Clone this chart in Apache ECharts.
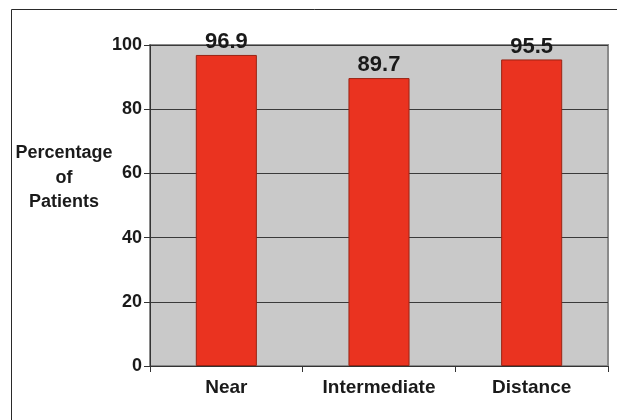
<!DOCTYPE html>
<html>
<head>
<meta charset="utf-8">
<script src="https://cdn.jsdelivr.net/npm/echarts@6/dist/echarts.min.js"></script>
<style>
  html, body { margin: 0; padding: 0; background: #ffffff; }
  #chart { width: 617px; height: 420px; }
</style>
</head>
<body>
<div id="chart"></div>
<script>
// Share of patients reaching each vision range
const categories = ['Near', 'Intermediate', 'Distance'];
const percentages = [96.9, 89.7, 95.5];
const yTicks = { min: 0, max: 100, interval: 20 };
const yAxisTitle = 'Percentage\nof\nPatients';

const FONT = '"Liberation Sans", Arial, sans-serif';

const chart = echarts.init(document.getElementById('chart'), null, { renderer: 'canvas' });

chart.setOption({
  animation: false,
  backgroundColor: '#ffffff',
  grid: {
    left: 150, right: 9, top: 45, bottom: 54,
    show: true,
    backgroundColor: '#c9c9c9',
    borderColor: '#8a8a8a',
    borderWidth: 2
  },
  graphic: [
    {
      type: 'rect',
      shape: { x: 11.5, y: 9.5, width: 700, height: 500 },
      style: { fill: 'none', stroke: '#2a2a2a', lineWidth: 1 },
      silent: true
    },
    {
      type: 'text',
      x: 64,
      y: 178,
      style: {
        text: yAxisTitle,
        font: 'bold 18px ' + FONT,
        fill: '#1a1a1a',
        align: 'center',
        verticalAlign: 'middle',
        lineHeight: 24.5
      },
      silent: true
    }
  ],
  xAxis: {
    type: 'category',
    data: categories,
    boundaryGap: true,
    axisLine: { show: true, lineStyle: { color: '#333333', width: 1 } },
    axisTick: { show: true, length: 6, lineStyle: { color: '#333333' } },
    axisLabel: {
      margin: 12,
      color: '#1a1a1a',
      fontFamily: FONT,
      fontWeight: 'bold',
      fontSize: 19
    },
    splitLine: { show: false }
  },
  yAxis: {
    type: 'value',
    min: yTicks.min,
    max: yTicks.max,
    interval: yTicks.interval,
    axisLine: { show: true, lineStyle: { color: '#333333', width: 1 } },
    axisTick: { show: true, length: 6, lineStyle: { color: '#333333' } },
    axisLabel: {
      margin: 8,
      color: '#1a1a1a',
      fontFamily: FONT,
      fontWeight: 'bold',
      fontSize: 18
    },
    splitLine: { show: true, lineStyle: { color: '#3a3a3a', width: 1 } }
  },
  series: [{
    type: 'bar',
    data: percentages,
    barWidth: '40%',
    itemStyle: {
      color: '#ea3320',
      borderColor: '#9a2414',
      borderWidth: 1
    },
    label: {
      show: true,
      position: 'top',
      distance: 2,
      color: '#1a1a1a',
      fontFamily: FONT,
      fontWeight: 'bold',
      fontSize: 22,
      formatter: (p) => p.value.toFixed(1)
    }
  }]
});
</script>
</body>
</html>
